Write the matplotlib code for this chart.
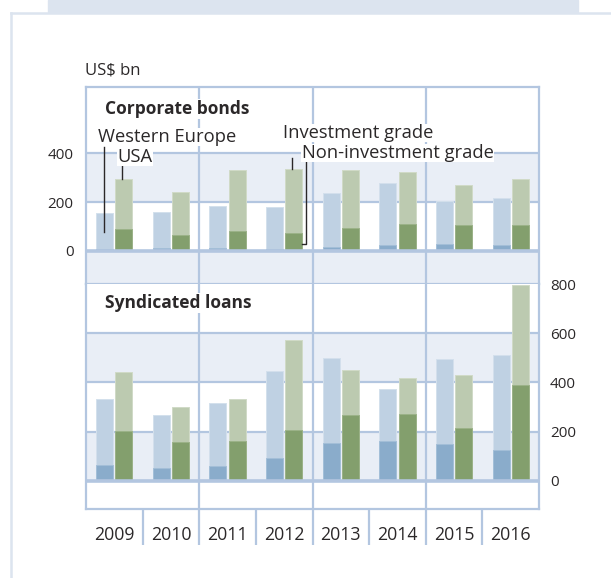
import matplotlib.pyplot as plt
import matplotlib.patches as mpatches
from matplotlib.lines import Line2D

years = ["2009", "2010", "2011", "2012", "2013", "2014", "2015", "2016"]

# corporate bonds, US$ bn (totals = investment + non-investment grade)
bonds_eu_total = [154, 159, 184, 178, 236, 279, 204, 218]
bonds_eu_nonig = [8, 12, 13, 8, 18, 26, 30, 26]
bonds_us_total = [294, 242, 331, 333, 331, 322, 269, 292]
bonds_us_nonig = [90, 65, 82, 73, 94, 110, 107, 106]

# syndicated loans, US$ bn
loans_eu_total = [333, 268, 317, 448, 501, 374, 497, 513]
loans_eu_nonig = [63, 52, 60, 94, 152, 163, 151, 125]
loans_us_total = [444, 301, 333, 573, 452, 418, 429, 795]
loans_us_nonig = [201, 157, 163, 207, 267, 273, 214, 388]

top_ticks = [0, 200, 400]
bottom_ticks = [0, 200, 400, 600, 800]

W, H = 611, 578
GRID = "#b3c6e0"
BAND = "#e9eef6"
FRAME = "#dce4ef"
TXT = "#2b2829"
blue_lt, blue_dk = "#bfd1e3", "#8aaccb"
green_lt, green_dk = "#bccab0", "#839f6d"

plt.rcParams['font.family'] = ['Open Sans', 'DejaVu Sans']

fig = plt.figure(figsize=(W / 100, H / 100), dpi=100)


def px_axes(x0, y0, x1, y1):
    return fig.add_axes([x0 / W, 1 - y1 / H, (x1 - x0) / W, (y1 - y0) / H])


# page decoration
fig.patches.append(mpatches.Rectangle((48 / W, 1 - 12 / H), 530 / W, 12 / H,
                                      transform=fig.transFigure, color=FRAME, zorder=0))
fig.lines.append(Line2D([11 / W, 1], [1 - 12.5 / H, 1 - 12.5 / H], transform=fig.transFigure,
                        color=FRAME, lw=1.8))
fig.lines.append(Line2D([11 / W, 11 / W], [0, 1 - 12.5 / H], transform=fig.transFigure,
                        color=FRAME, lw=1.8))

X0, X1 = 86, 539
ax_top = px_axes(X0, 87, X1, 284)
ax_bot = px_axes(X0, 284, X1, 509)
ax_lab = px_axes(X0, 509, X1, 545)

top_lim = (-134.7, 669.4)
bot_lim = (-115, 800)

xs = [i + 0.5 for i in range(len(years))]
bw = 0.30
off = 0.17


def draw_panel(ax, bands, grids, eu_t, eu_n, us_t, us_n):
    ax.set_xlim(0, len(years))
    for lo, hi in bands:
        ax.axhspan(lo, hi, color=BAND, lw=0, zorder=0)
    for g in grids:
        ax.axhline(g, color=GRID, lw=1.6, zorder=1)
    ax.axhline(0, color=GRID, lw=2.6, zorder=4)
    for v in (2, 4, 6):
        ax.axvline(v, color=GRID, lw=1.6, zorder=1)
    xe = [x - off for x in xs]
    xu = [x + off for x in xs]
    ax.bar(xe, eu_t, bw, color=blue_lt, edgecolor="#d3e0ec", lw=0.7, zorder=2)
    ax.bar(xe, eu_n, bw, color=blue_dk, edgecolor="#a3bfd8", lw=0.7, zorder=3)
    ax.bar(xu, us_t, bw, color=green_lt, edgecolor="#d0dac7", lw=0.7, zorder=2)
    ax.bar(xu, us_n, bw, color=green_dk, edgecolor="#9bb288", lw=0.7, zorder=3)
    for s in ax.spines.values():
        s.set_color(GRID)
        s.set_linewidth(1.6)
    ax.tick_params(length=0)
    ax.set_xticks([])


draw_panel(ax_top, [(-200, 0), (200, 400)], [200, 400],
           bonds_eu_total, bonds_eu_nonig, bonds_us_total, bonds_us_nonig)
draw_panel(ax_bot, [(0, 200), (400, 600)], [200, 400, 600],
           loans_eu_total, loans_eu_nonig, loans_us_total, loans_us_nonig)
ax_top.set_ylim(*top_lim)
ax_bot.set_ylim(*bot_lim)

ax_top.set_yticks(top_ticks)
ax_top.set_yticklabels([str(t) for t in top_ticks], fontsize=11, color=TXT)
ax_top.tick_params(axis="y", pad=9)
ax_bot.yaxis.tick_right()
ax_bot.set_yticks(bottom_ticks)
ax_bot.set_yticklabels([str(t) for t in bottom_ticks], fontsize=11, color=TXT)
ax_bot.tick_params(axis="y", pad=8)
ax_bot.spines["top"].set_visible(False)

# year strip
ax_lab.set_xlim(0, len(years))
ax_lab.set_ylim(0, 1)
ax_lab.axis("off")
for v in range(1, len(years)):
    ax_lab.plot([v, v], [0.02, 1], color=GRID, lw=1.6)
for x, y in zip(xs, years):
    ax_lab.text(x, 0.27, y, ha="center", va="center", fontsize=12.8, color=TXT)

fig.text(85 / W, 1 - 71 / H, "US$ bn", fontsize=12, color=TXT, va="center", ha="left")

wb = dict(facecolor="white", edgecolor="none", pad=1.0)
ax_top.text(0.33, 580, "Corporate bonds", fontsize=12.5, fontweight="bold", color=TXT,
            va="center", ha="left", bbox=wb, zorder=6)
ax_bot.text(0.33, 723, "Syndicated loans", fontsize=12.5, fontweight="bold", color=TXT,
            va="center", ha="left", bbox=wb, zorder=6)

# legend callouts
lbl = dict(fontsize=13.2, color=TXT, va="center", bbox=dict(facecolor="white", edgecolor="none", pad=0.3),
           zorder=6)
ax_top.text(0.21, 465, "Western Europe", ha="left", **lbl)
ax_top.text(0.55, 384, "USA", ha="left", **lbl)
ax_top.text(3.48, 482, "Investment grade", ha="left", **lbl)
ax_top.text(3.81, 400, "Non-investment grade", ha="left", **lbl)
ax_top.plot([0.32, 0.32], [79, 425], color=TXT, lw=1, zorder=5)
ax_top.plot([0.64, 0.64], [294, 352], color=TXT, lw=1, zorder=5)
ax_top.plot([3.64, 3.64], [333, 380], color=TXT, lw=1, zorder=5)
ax_top.plot([xs[3] + off + bw / 2, 3.88, 3.88], [28, 28, 380], color=TXT, lw=1, zorder=5)

fig.savefig("out.png", dpi=100)
